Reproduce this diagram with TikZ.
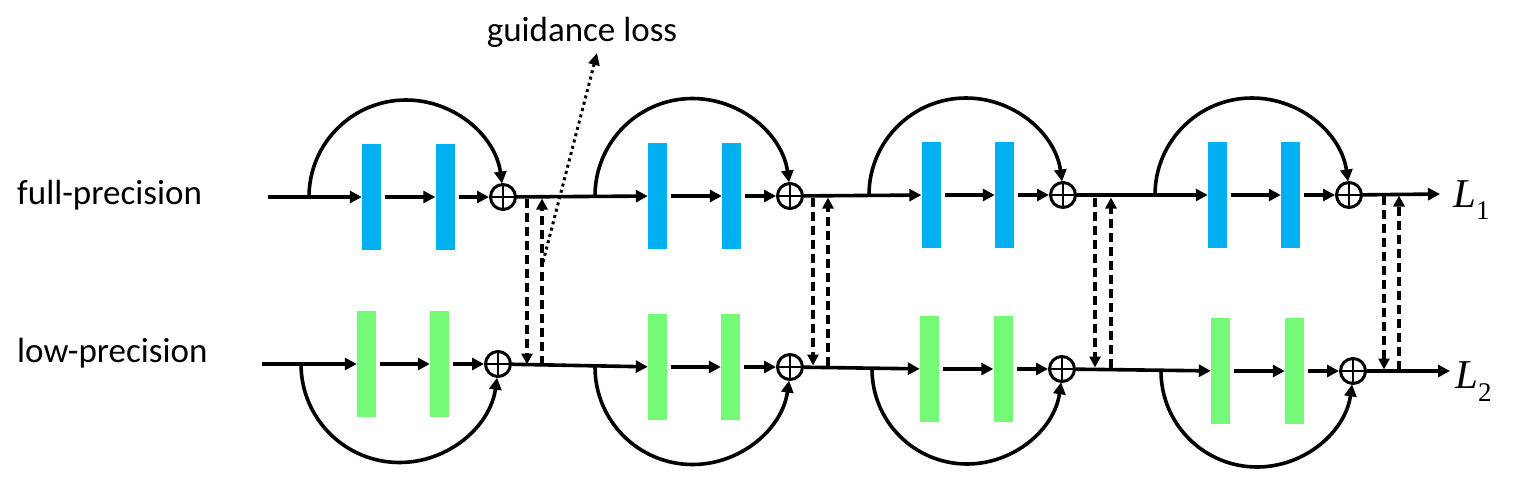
\documentclass[tikz,border=0pt]{standalone}
\usepackage{fontspec}
\setmainfont{Carlito}
\newfontfamily\tnr{Liberation Serif}
\usetikzlibrary{arrows.meta}
\definecolor{fpblue}{RGB}{0,176,240}
\definecolor{lpgreen}{RGB}{117,250,120}
\begin{document}
\begin{tikzpicture}[x=1pt,y=1pt,
  arr/.style={line width=3.6pt,-{Triangle[length=12pt,width=12pt]}},
  fpblock/.style={fill=fpblue,minimum width=19pt,minimum height=106pt,inner sep=0pt},
  lpblock/.style={fill=lpgreen,minimum width=19pt,minimum height=106pt,inner sep=0pt},
  adder/.style={circle,draw,line width=3pt,minimum size=25pt,inner sep=0pt,
    path picture={\draw[line width=2.4pt] (path picture bounding box.north) -- (path picture bounding box.south)
      (path picture bounding box.west) -- (path picture bounding box.east);}},
  guide/.style={line width=3.6pt,dash pattern=on 9pt off 5pt,-{Triangle[length=11pt,width=11pt]}},
  dotline/.style={line width=3pt,dash pattern=on 3pt off 3.5pt,-{Triangle[length=12pt,width=11pt]}},
  lbl/.style={font=\fontsize{35}{40}\selectfont,inner sep=0pt},
  ]
\useasboundingbox (0,0) rectangle (1513,-483);

% full-precision row
\foreach \i/\ty/\pa/\pb/\cx/\sx/\r in {1/197/371.5/445/503/309/97, 2/196/657.5/731.5/790/595/97.5, 3/195/931/1004.5/1063/869/97, 4/195/1217.5/1290.5/1349/1155/97}
{
  \node[fpblock] (fa\i) at (\pa,-\ty) {};
  \node[fpblock] (fb\i) at (\pb,-\ty) {};
  \node[adder] (fs\i) at (\cx,-\ty) {};
  \coordinate (fk\i) at (\sx,-\ty);
  \draw[arr,shorten <=4pt] (fa\i) -- (fb\i);
  \draw[arr,shorten <=4pt] (fb\i) -- (fs\i);
  \draw[arr] (fk\i) arc[start angle=180,end angle=8,radius=\r];
}

% low-precision row
\foreach \i/\ty/\pa/\pb/\cx/\sx/\r in {1/364/366.5/439.5/498/301/98.5, 2/367/657.5/730.5/790/595/97.5, 3/369/929.5/1003/1062/872/95, 4/371/1220.5/1294.5/1353/1161/96}
{
  \node[lpblock] (la\i) at (\pa,-\ty) {};
  \node[lpblock] (lb\i) at (\pb,-\ty) {};
  \node[adder] (ls\i) at (\cx,-\ty) {};
  \coordinate (lk\i) at (\sx,-\ty);
  \draw[arr,shorten <=4pt] (la\i) -- (lb\i);
  \draw[arr,shorten <=4pt] (lb\i) -- (ls\i);
  \draw[arr] (lk\i) arc[start angle=180,end angle=352,radius=\r];
}

% inputs and links between stages
\coordinate (fin) at (268,-197);
\coordinate (lin) at (262,-364);
\draw[arr] (fin) -- (fa1);
\draw[arr] (lin) -- (la1);
\draw[arr] (fs1) -- (fa2);
\draw[arr] (fs2) -- (fa3);
\draw[arr] (fs3) -- (fa4);
\draw[arr] (ls1) -- (la2);
\draw[arr] (ls2) -- (la3);
\draw[arr] (ls3) -- (la4);

% outputs
\coordinate (fout) at (1440,-194);
\coordinate (lout) at (1450,-371);
\draw[arr] (fs4) -- (fout);
\draw[arr] (ls4) -- (lout);
\node[anchor=base west,inner sep=0pt] (L1) at (1453,-207)
  {\tnr\fontsize{41}{41}\selectfont\itshape L\raisebox{-12pt}{\upshape\fontsize{27}{27}\selectfont 1}};
\node[anchor=base west,inner sep=0pt] (L2) at (1455,-388)
  {\tnr\fontsize{41}{41}\selectfont\itshape L\raisebox{-13pt}{\upshape\fontsize{27}{27}\selectfont 2}};

% guidance connectors
\foreach \i/\xd/\xu/\ty/\by in {1/527/542/197/366, 2/813/828/196/367, 3/1095/1111/196/369, 4/1384/1399/194/371}
{
  \coordinate (dt\i) at (\xd,-\ty-1.5);
  \coordinate (db\i) at (\xd,-\by+1.5);
  \coordinate (ut\i) at (\xu,-\ty-1.5);
  \coordinate (ub\i) at (\xu,-\by+1.5);
  \draw[guide] (dt\i) -- (db\i);
  \draw[guide] (ub\i) -- (ut\i);
}

% guidance loss label
\coordinate (gs) at (543,-262);
\coordinate (gt) at (597,-53);
\draw[dotline] (gs) -- (gt);
\node[lbl,anchor=base] (gl) at (582,-41) {guidance loss};

% row labels
\node[lbl,anchor=base west] (fp) at (17,-204) {full-precision};
\node[lbl,anchor=base west] (lp) at (17,-362) {low-precision};
\end{tikzpicture}
\end{document}
